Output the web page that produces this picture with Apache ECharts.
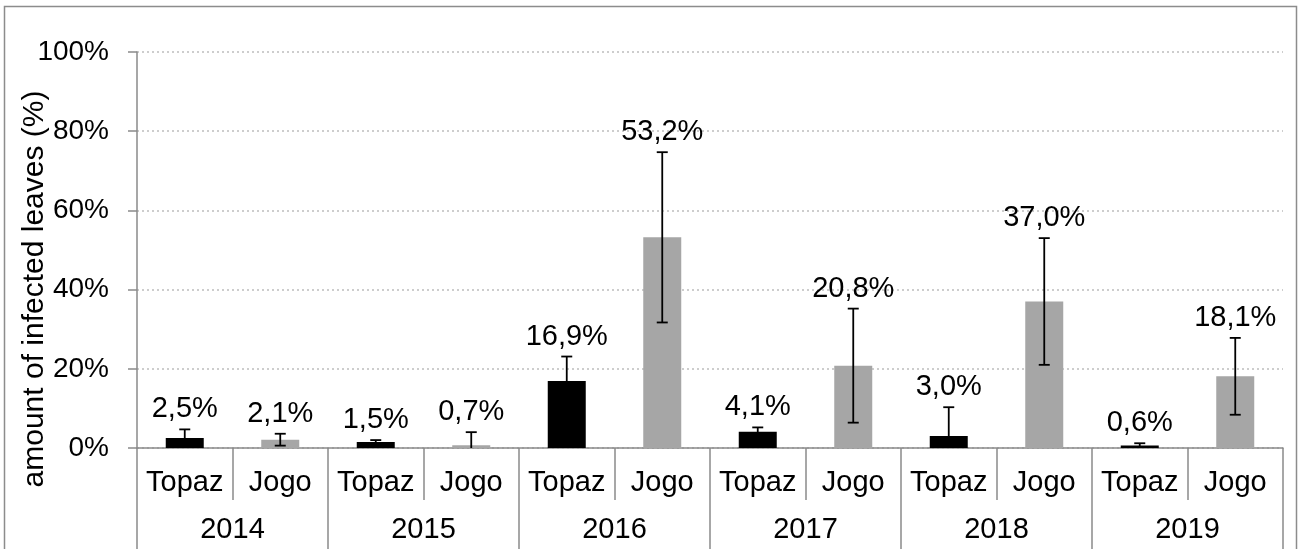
<!DOCTYPE html>
<html>
<head>
<meta charset="utf-8">
<script src="https://cdn.jsdelivr.net/npm/echarts@6/dist/echarts.min.js"></script>
<style>
  html, body { margin: 0; padding: 0; background: #fff; }
  #chart { width: 1301px; height: 549px; }
</style>
</head>
<body>
<div id="chart"></div>
<script>
// data (percent)
const years = ['2014', '2015', '2016', '2017', '2018', '2019'];
const cultivars = ['Topaz', 'Jogo'];
const means = [2.5, 2.1, 1.5, 0.7, 16.9, 53.2, 4.1, 20.8, 3.0, 37.0, 0.6, 18.1];
const errors = [2.2, 1.5, 0.5, 3.3, 6.2, 21.5, 1.1, 14.4, 7.3, 16.0, 0.6, 9.7];
const labels = ['2,5%', '2,1%', '1,5%', '0,7%', '16,9%', '53,2%', '4,1%', '20,8%', '3,0%', '37,0%', '0,6%', '18,1%'];

const categories = [];
years.forEach(() => cultivars.forEach(c => categories.push(c)));

const colors = { Topaz: '#000000', Jogo: '#a6a6a6' };
const axisGray = '#8a8a8a';
const font = 'Liberation Sans, Arial, sans-serif';

const chart = echarts.init(document.getElementById('chart'));

const option = {
  animation: false,
  textStyle: { fontFamily: font },
  grid: { left: 137, right: 18, top: 52, bottom: 101, containLabel: false },
  graphic: [
    {
      type: 'rect',
      shape: { x: 4.5, y: 6.5, width: 1292, height: 600 },
      style: { fill: 'none', stroke: '#8c8c8c', lineWidth: 1.5 },
      z: -1
    },
    {
      // y axis title, sits lower than the plot centre as in the original
      type: 'text',
      x: 35,
      y: 289,
      rotation: Math.PI / 2,
      style: {
        text: 'amount of infected leaves (%)',
        fill: '#000',
        font: '30px ' + font,
        align: 'center',
        verticalAlign: 'middle'
      }
    }
  ],
  xAxis: [
    {
      type: 'category',
      data: categories,
      axisLine: { lineStyle: { color: axisGray, width: 1.5 } },
      axisTick: { show: true, interval: 0, length: 52, lineStyle: { color: axisGray, width: 1.5 } },
      axisLabel: { interval: 0, color: '#000', fontSize: 29, fontFamily: font, margin: 20 }
    },
    {
      type: 'category',
      position: 'bottom',
      data: years,
      axisLine: { show: false },
      axisTick: { show: true, interval: 0, length: 101, lineStyle: { color: axisGray, width: 1.5 } },
      axisLabel: { interval: 0, color: '#000', fontSize: 29, fontFamily: font, margin: 67 }
    }
  ],
  yAxis: {
    type: 'value',
    min: 0,
    max: 100,
    interval: 20,
    axisLine: { show: true, lineStyle: { color: axisGray, width: 1.5 } },
    axisTick: { show: true, length: 9, lineStyle: { color: axisGray, width: 1.5 } },
    axisLabel: { color: '#000', fontSize: 28, fontFamily: font, margin: 28, formatter: '{value}%' },
    splitLine: { lineStyle: { color: '#bdbdbd', type: [2, 3], width: 1.5 } }
  },
  series: [
    {
      type: 'bar',
      barWidth: 38,
      data: means.map((v, i) => ({ value: v, itemStyle: { color: colors[categories[i]] } })),
      z: 2
    },
    {
      type: 'custom',
      z: 5,
      data: means.map((v, i) => [i, v, errors[i]]),
      renderItem: function (params, api) {
        const i = api.value(0);
        const m = api.value(1);
        const e = api.value(2);
        const lowVal = Math.max(0, m - e);
        const top = api.coord([i, m + e]);
        const low = api.coord([i, lowVal]);
        const half = 5.5;
        const style = { stroke: '#000', lineWidth: 1.8 };
        const children = [
          { type: 'line', shape: { x1: top[0], y1: top[1], x2: low[0], y2: low[1] }, style: style },
          { type: 'line', shape: { x1: top[0] - half, y1: top[1], x2: top[0] + half, y2: top[1] }, style: style }
        ];
        if (m - e > 0) {
          children.push({ type: 'line', shape: { x1: low[0] - half, y1: low[1], x2: low[0] + half, y2: low[1] }, style: style });
        }
        children.push({
          type: 'text',
          style: {
            x: top[0], y: top[1] - 20,
            text: labels[params.dataIndex],
            fill: '#000',
            font: '29px ' + font,
            align: 'center',
            verticalAlign: 'middle'
          }
        });
        return { type: 'group', children: children };
      }
    }
  ]
};

chart.setOption(option);
</script>
</body>
</html>
